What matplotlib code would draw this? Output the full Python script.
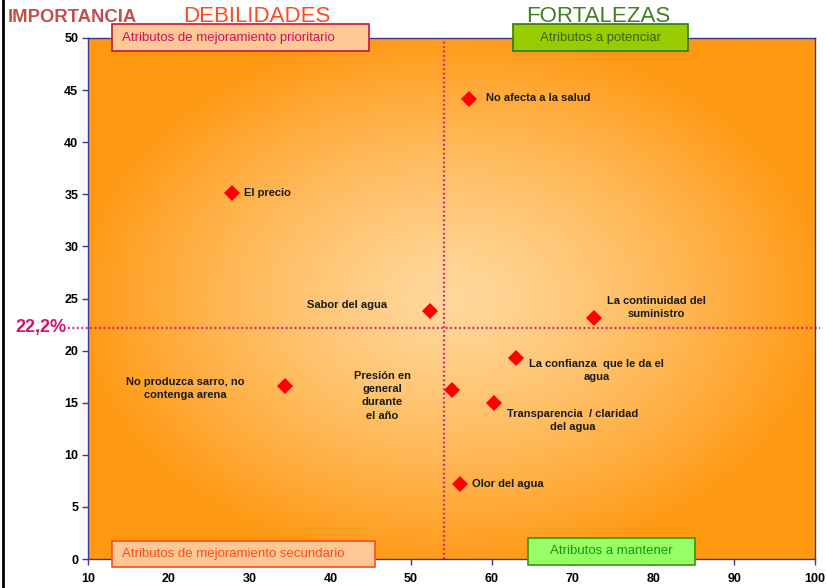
import numpy as np
import matplotlib
matplotlib.use("Agg")
import matplotlib.pyplot as plt
from matplotlib.lines import Line2D
from matplotlib.patches import Rectangle
from matplotlib.colors import to_rgb

plt.rcParams['font.family'] = ['Liberation Sans', 'DejaVu Sans']

# ---- data ----
labels = ["No afecta a la salud", "El precio", "Sabor del agua",
          "La continuidad del\nsuministro", "La confianza  que le da el\nagua",
          "No produzca sarro, no\ncontenga arena", "Presión en\ngeneral\ndurante\nel año",
          "Transparencia  / claridad\ndel agua", "Olor del agua"]
x_vals = [57.2, 27.8, 52.4, 72.6, 63.0, 34.4, 55.0, 60.2, 56.0]
y_vals = [44.1, 35.1, 23.8, 23.1, 19.3, 16.6, 16.2, 15.0, 7.2]
x_ticks = [10, 20, 30, 40, 50, 60, 70, 80, 90, 100]
y_ticks = [0, 5, 10, 15, 20, 25, 30, 35, 40, 45, 50]
x_ref = 54.1
y_ref = 22.2
y_ref_label = "22,2%"

# label offsets in points (layout)
offsets = [(12, 1), (9, 0), (-31, 4), (45, 8), (58, -9), (-72, -2), (-50, -4), (57, -13), (9, 0)]
aligns = ["left", "left", "right", "center", "center", "center", "center", "center", "left"]

W, H = 826, 588
AX_L, AX_R, AX_T, AX_B = 88, 815, 38, 559
fig = plt.figure(figsize=(W / 100, H / 100), dpi=100)
ax = fig.add_axes([AX_L / W, 1 - AX_B / H, (AX_R - AX_L) / W, (AX_B - AX_T) / H])
ax.set_xlim(10, 100)
ax.set_ylim(0, 50)

# gradient background
nx, ny = 400, 300
gx = np.linspace(-1, 1, nx)
gy = np.linspace(-1, 1, ny)
GX, GY = np.meshgrid(gx, gy)
t = np.clip(np.sqrt(GX ** 2 + GY ** 2) / 1.05, 0, 1) ** 1.25
light = np.array(to_rgb("#FFD89C"))
edge = np.array(to_rgb("#FF9812"))
img = light[None, None, :] + (edge - light)[None, None, :] * t[:, :, None]
ax.imshow(img, extent=[10, 100, 0, 50], aspect='auto', zorder=0, interpolation='bilinear')

# reference lines
dot_col = "#E0197D"
ax.axvline(x_ref, color=dot_col, lw=1.6, ls=(0, (0.8, 1.2)), zorder=2)
axw = AX_R - AX_L
ax.plot([(68 - AX_L) / axw, (820 - AX_L) / axw], [y_ref / 50] * 2, transform=ax.transAxes,
        color=dot_col, lw=1.6, ls=(0, (0.8, 1.2)), zorder=2, clip_on=False)
ax.text((66 - AX_L) / axw, y_ref / 50, y_ref_label, transform=ax.transAxes, ha='right',
        va='center', color="#D4146E", fontsize=13, fontweight='bold')

# points
ax.plot(x_vals, y_vals, ls='none', marker='D', ms=8.6, color='#FF0000', zorder=4,
        markeredgewidth=0)
for lab, xv, yv, off, al in zip(labels, x_vals, y_vals, offsets, aligns):
    ax.annotate(lab, (xv, yv), xytext=off, textcoords='offset points', ha=al, va='center',
                fontsize=8, fontweight='bold', color='#1a1a1a', linespacing=1.4,
                multialignment='center', zorder=5)

# axes styling
ax.set_xticks(x_ticks)
ax.set_yticks(y_ticks)
spine_col = "#3a3a96"
for s in ax.spines.values():
    s.set_color(spine_col)
    s.set_linewidth(1.0)
ax.tick_params(direction='out', length=4, width=1, color=spine_col, labelsize=9, pad=3)
ax.tick_params(axis='x', pad=6)
for lbl in ax.get_xticklabels() + ax.get_yticklabels():
    lbl.set_fontweight('bold')

# titles
fig.text(8 / W, 1 - 17 / H, "IMPORTANCIA", ha='left', va='center', fontsize=13.3,
         fontweight='bold', color='#C0504D')
fig.text(257 / W, 1 - 16 / H, "DEBILIDADES", ha='center', va='center', fontsize=16,
         color='#FF4A1C')
fig.text(598 / W, 1 - 16 / H, "FORTALEZAS", ha='center', va='center', fontsize=16,
         color='#3F7F1F')

# quadrant boxes (figure pixel layout)
def box(x0, y0, x1, y1, face, edgec, text, tcol, align):
    r = Rectangle((x0 / W, 1 - y1 / H), (x1 - x0) / W, (y1 - y0) / H, transform=fig.transFigure,
                  facecolor=face, edgecolor=edgec, lw=1.2, zorder=10)
    fig.add_artist(r)
    if align == 'left':
        fig.text((x0 + 10) / W, 1 - (y0 + y1) / 2 / H, text, ha='left', va='center',
                 fontsize=9.5, color=tcol, zorder=11)
    else:
        fig.text((x0 + x1) / 2 / W, 1 - (y0 + y1) / 2 / H, text, ha='center', va='center',
                 fontsize=9.5, color=tcol, zorder=11)

box(112, 24, 369, 51, '#FFC895', '#C8143C', "Atributos de mejoramiento prioritario", '#CC1166', 'left')
box(513, 24, 688, 51, '#99CC00', '#2E7D0A', "Atributos a potenciar", '#336600', 'center')
box(112, 541, 375, 567, '#FFC895', '#FF4A1C', "Atributos de mejoramiento secundario", '#FF4A1C', 'left')
box(528, 538, 695, 565, '#99FF66', '#339900', "Atributos a mantener", '#119911', 'center')

# left border line
fig.add_artist(Line2D([3 / W, 3 / W], [0, 1], transform=fig.transFigure, color='black', lw=2))

fig.savefig("out.png", dpi=100)
